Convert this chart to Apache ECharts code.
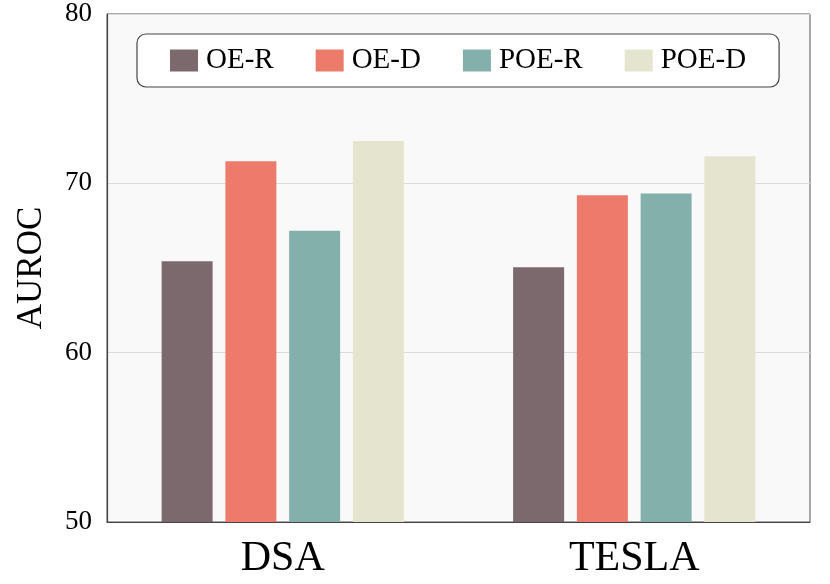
<!DOCTYPE html>
<html>
<head>
<meta charset="utf-8">
<script src="https://cdn.jsdelivr.net/npm/echarts@6/dist/echarts.min.js"></script>
<style>
  html, body { margin: 0; padding: 0; background: #fff; }
  #chart { width: 830px; height: 584px; }
</style>
</head>
<body>
<div id="chart"></div>
<script>
// datasets on the x axis
const categories = ['DSA', 'TESLA'];
// methods and their AUROC per dataset
const seriesNames = ['OE-R', 'OE-D', 'POE-R', 'POE-D'];
const oeR = [65.4, 65.05];
const oeD = [71.3, 69.3];
const poeR = [67.2, 69.4];
const poeD = [72.5, 71.6];
const yTicks = [50, 60, 70, 80];

const colors = ['#7b696d', '#ec7b6b', '#84b0ac', '#e4e4cf'];
const values = [oeR, oeD, poeR, poeD];
const serif = 'Liberation Serif';

let chart = echarts.init(document.getElementById('chart'));

chart.setOption({
    animation: false,
    color: colors,
    legend: {
        data: seriesNames,
        left: 137,
        top: 34,
        padding: [12, 33, 12, 33],
        itemWidth: 28,
        itemHeight: 22,
        itemGap: 42,
        backgroundColor: '#fff',
        borderColor: '#444',
        borderWidth: 1.2,
        borderRadius: 9,
        icon: 'rect',
        textStyle: {
            fontFamily: serif,
            fontSize: 29,
            color: '#000',
            padding: [0, 0, 0, 3]
        }
    },
    grid: {
        left: 107,
        right: 20,
        top: 14,
        bottom: 62,
        show: true,
        backgroundColor: '#f9f9f9',
        borderColor: '#555',
        borderWidth: 1
    },
    xAxis: {
        type: 'category',
        data: categories,
        axisTick: {show: false},
        axisLine: {lineStyle: {color: '#444', width: 1.2}},
        axisLabel: {
            fontFamily: serif,
            fontSize: 42,
            color: '#000',
            margin: 16
        }
    },
    yAxis: {
        type: 'value',
        min: yTicks[0],
        max: yTicks[yTicks.length - 1],
        interval: 10,
        name: 'AUROC',
        nameLocation: 'middle',
        nameGap: 58,
        nameTextStyle: {
            fontFamily: serif,
            fontSize: 35,
            color: '#000'
        },
        axisLine: {show: true, lineStyle: {color: '#444', width: 1.2}},
        axisTick: {show: false},
        axisLabel: {
            fontFamily: serif,
            fontSize: 27,
            color: '#000',
            margin: 15
        },
        splitLine: {lineStyle: {color: '#dcdcdc', width: 1.2}}
    },
    series: seriesNames.map((name, i) => ({
        name: name,
        type: 'bar',
        data: values[i],
        barWidth: 51,
        barGap: '25%',
        itemStyle: {color: colors[i]}
    }))
});
</script>
</body>
</html>
